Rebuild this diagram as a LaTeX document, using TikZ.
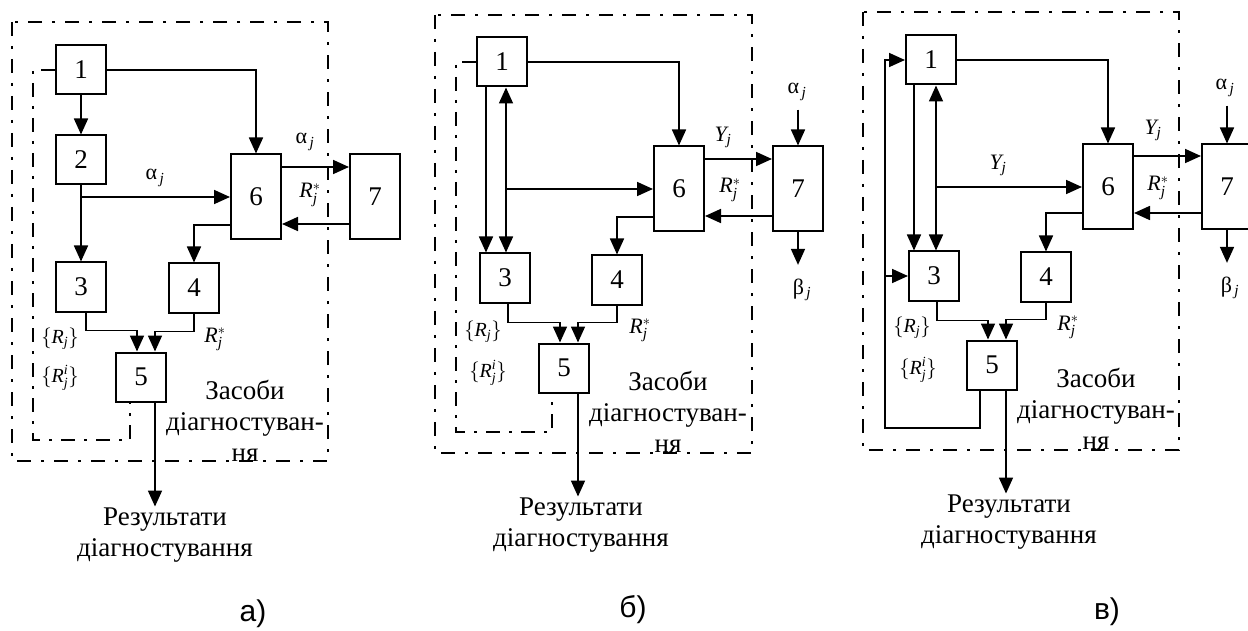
\documentclass[tikz,border=0pt]{standalone}
\usepackage{fontspec}
\setmainfont{Liberation Serif}
\newfontfamily\capfont{Liberation Sans}
\usetikzlibrary{arrows.meta}
\tikzset{
  box/.style={draw, rectangle, line width=2pt, minimum width=50pt, minimum height=49pt, inner sep=0pt, font=\fontsize{27}{30}\selectfont},
  tall/.style={box, minimum height=85pt},
  arr/.style={-{Triangle[length=16pt, width=14pt]}, line width=1.7pt},
  darr/.style={{Triangle[length=16pt, width=14pt]}-{Triangle[length=16pt, width=14pt]}, line width=1.7pt},
  outerdd/.style={line width=2.8pt, dash pattern=on 14pt off 10pt on 3pt off 10pt},
  innerdd/.style={line width=2.2pt, dash pattern=on 14pt off 9pt on 3pt off 9pt},
  lbl/.style={font=\fontsize{22}{24}\selectfont, inner sep=0pt},
  setlbl/.style={font=\fontsize{20}{22}\selectfont, inner sep=0pt},
  txt/.style={font=\fontsize{27}{31}\selectfont, align=center, inner sep=1pt},
  capt/.style={font=\capfont\fontsize{30}{34}\selectfont}
}
\newcommand{\alj}{α$_{\,\mathit{j}}$}
\newcommand{\Rst}{$\mathit{R}^{*}_{\mathit{j}}$}
\newcommand{\Yj}{$\mathit{Y}_{\mathit{j}}$}
\newcommand{\Rset}{$\bigl\{\mathit{R}_{\mathit{j}}\bigr\}$}
\newcommand{\Riset}{$\bigl\{\mathit{R}^{\mathit{i}}_{\mathit{j}}\bigr\}$}

\begin{document}
\begin{tikzpicture}[x=1pt, y=-1pt]
\useasboundingbox (0,0) rectangle (1248,631);
% a)
\draw[outerdd] (12,22) rectangle (328,461);
\node[box] (a1) at (81,70) {1};
\node[box] (a2) at (81,160) {2};
\node[box] (a3) at (81,287) {3};
\node[box] (a4) at (194,288) {4};
\node[box] (a5) at (141,377) {5};
\node[tall] (a6) at (256,197) {6};
\node[tall] (a7) at (375,197) {7};
\node[txt] (ares) at (165,535) {Результати\\діагностування};
\node[txt] (azas) at (245,421) {Засоби\\діагностуван-\\ня};
\draw[arr] (a1) -- (a2);
\draw[arr] (a1.east) -| (a6.north);
\draw[arr] (a2) -- (a3);
\draw[arr] (a2 |- a6.west) -- (a6.west);
\node[lbl] (aal) at (155,178) {\alj};
\draw[arr] ([yshift=30pt]a6.east) -- ([yshift=30pt]a7.west);
\draw[arr] ([yshift=-27pt]a7.west) -- ([yshift=-27pt]a6.east);
\node[lbl] (aal7) at (305,142) {\alj};
\node[lbl] (ar7) at (310,195) {\Rst};
\draw[arr] ([yshift=-28pt]a6.west) -| (a4.north);
\draw[arr] ([xshift=5pt]a3.south) -- ++(0,18) -| ([xshift=-4pt]a5.north);
\draw[arr] (a4.south) -- ++(0,18) -| ([xshift=14pt]a5.north);
\coordinate (a5o) at ([xshift=14pt]a5.south);
\draw[arr] (a5o) -- (a5o |- ares.north);
\draw[innerdd] (a1.west) -| (33,440) -| ([xshift=-11pt]a5.south);
\node[setlbl] (aset1) at (60,339) {\Rset};
\node[setlbl] (aset2) at (60,378) {\Riset};
\node[lbl] (ar4) at (215,339) {\Rst};
\node[capt] (acap) at (253,614) {а)};
% b)
\draw[outerdd] (435,15) rectangle (752,453);
\node[box] (b1) at (502,62) {1};
\node[box] (b3) at (505,278) {3};
\node[box] (b4) at (617,280) {4};
\node[box] (b5) at (564,368) {5};
\node[tall] (b6) at (679,189) {6};
\node[tall] (b7) at (798,189) {7};
\node[txt] (bres) at (581,525) {Результати\\діагностування};
\node[txt] (bzas) at (668,412) {Засоби\\діагностуван-\\ня};
\coordinate (b1l) at ([xshift=-16pt]b1.south);
\coordinate (b1r) at ([xshift=4pt]b1.south);
\draw[arr] (b1.east) -| (b6.north);
\draw[arr] (b1l) -- (b1l |- b3.north);
\draw[darr] (b1r) -- (b1r |- b3.north);
\draw[arr] (b1r |- b6.west) -- (b6.west);
\draw[arr] ([yshift=30pt]b6.east) -- ([yshift=30pt]b7.west);
\draw[arr] ([yshift=-27pt]b7.west) -- ([yshift=-27pt]b6.east);
\node[lbl] (bY) at (723,137) {\Yj};
\node[lbl] (br7) at (730,190) {\Rst};
\node[lbl] (bal) at (797,92) {\alj};
\node[lbl] (bbe) at (802,290) {β$_{\,\mathit{j}}$};
\draw[arr, shorten <=9pt] (b7.north |- bal.south) -- (b7.north);
\draw[arr, shorten >=14pt] (b7.south) -- (b7.south |- bbe.north);
\draw[arr] ([yshift=-28pt]b6.west) -| (b4.north);
\draw[arr] ([xshift=3pt]b3.south) -- ++(0,19) -| ([xshift=-4pt]b5.north);
\draw[arr] (b4.south) -- ++(0,17) -| ([xshift=14pt]b5.north);
\coordinate (b5o) at ([xshift=14pt]b5.south);
\draw[arr] (b5o) -- (b5o |- bres.north);
\draw[innerdd] (b1.west) -| (456,432) -| ([xshift=-12pt]b5.south);
\node[setlbl] (bset1) at (483,332) {\Rset};
\node[setlbl] (bset2) at (488,373) {\Riset};
\node[lbl] (br4) at (640,330) {\Rst};
\node[capt] (bcap) at (633,610) {б)};
% в)
\draw[outerdd] (863,12) rectangle (1179,450);
\node[box] (c1) at (931,60) {1};
\node[box] (c3) at (934,276) {3};
\node[box] (c4) at (1046,277) {4};
\node[box] (c5) at (992,365) {5};
\node[tall] (c6) at (1108,187) {6};
\node[tall] (c7) at (1227,187) {7};
\node[txt] (cres) at (1009,522) {Результати\\діагностування};
\node[txt] (czas) at (1096,409) {Засоби\\діагностуван-\\ня};
\coordinate (c1l) at ([xshift=-17pt]c1.south);
\coordinate (c1r) at ([xshift=5pt]c1.south);
\draw[arr] (c1.east) -| (c6.north);
\draw[arr] (c1l) -- (c1l |- c3.north);
\draw[darr] (c1r) -- (c1r |- c3.north);
\draw[arr] (c1r |- c6.west) -- (c6.west);
\node[lbl] (cY1) at (998,165) {\Yj};
\draw[arr] ([yshift=31pt]c6.east) -- ([yshift=31pt]c7.west);
\draw[arr] ([yshift=-26pt]c7.west) -- ([yshift=-26pt]c6.east);
\node[lbl] (cY2) at (1153,130) {\Yj};
\node[lbl] (cr7) at (1158,188) {\Rst};
\node[lbl] (cal) at (1225,88) {\alj};
\node[lbl] (cbe) at (1230,288) {β$_{\,\mathit{j}}$};
\draw[arr, shorten <=9pt] (c7.north |- cal.south) -- (c7.north);
\draw[arr, shorten >=14pt] (c7.south) -- (c7.south |- cbe.north);
\draw[arr] ([yshift=-26pt]c6.west) -| (c4.north);
\draw[arr] ([xshift=3pt]c3.south) -- ++(0,19) -| ([xshift=-4pt]c5.north);
\draw[arr] (c4.south) -- ++(0,17) -| ([xshift=14pt]c5.north);
\coordinate (c5o) at ([xshift=14pt]c5.south);
\draw[arr] (c5o) -- (c5o |- cres.north);
\coordinate (cfb) at (885,428);
\draw[arr] ([xshift=-12pt]c5.south) |- (cfb) |- (c1.west);
\draw[arr] (cfb |- c3.west) -- (c3.west);
\node[setlbl] (cset1) at (912,328) {\Rset};
\node[setlbl] (cset2) at (918,370) {\Riset};
\node[lbl] (cr4) at (1068,327) {\Rst};
\node[capt] (ccap) at (1107,612) {в)};
\end{tikzpicture}
\end{document}
